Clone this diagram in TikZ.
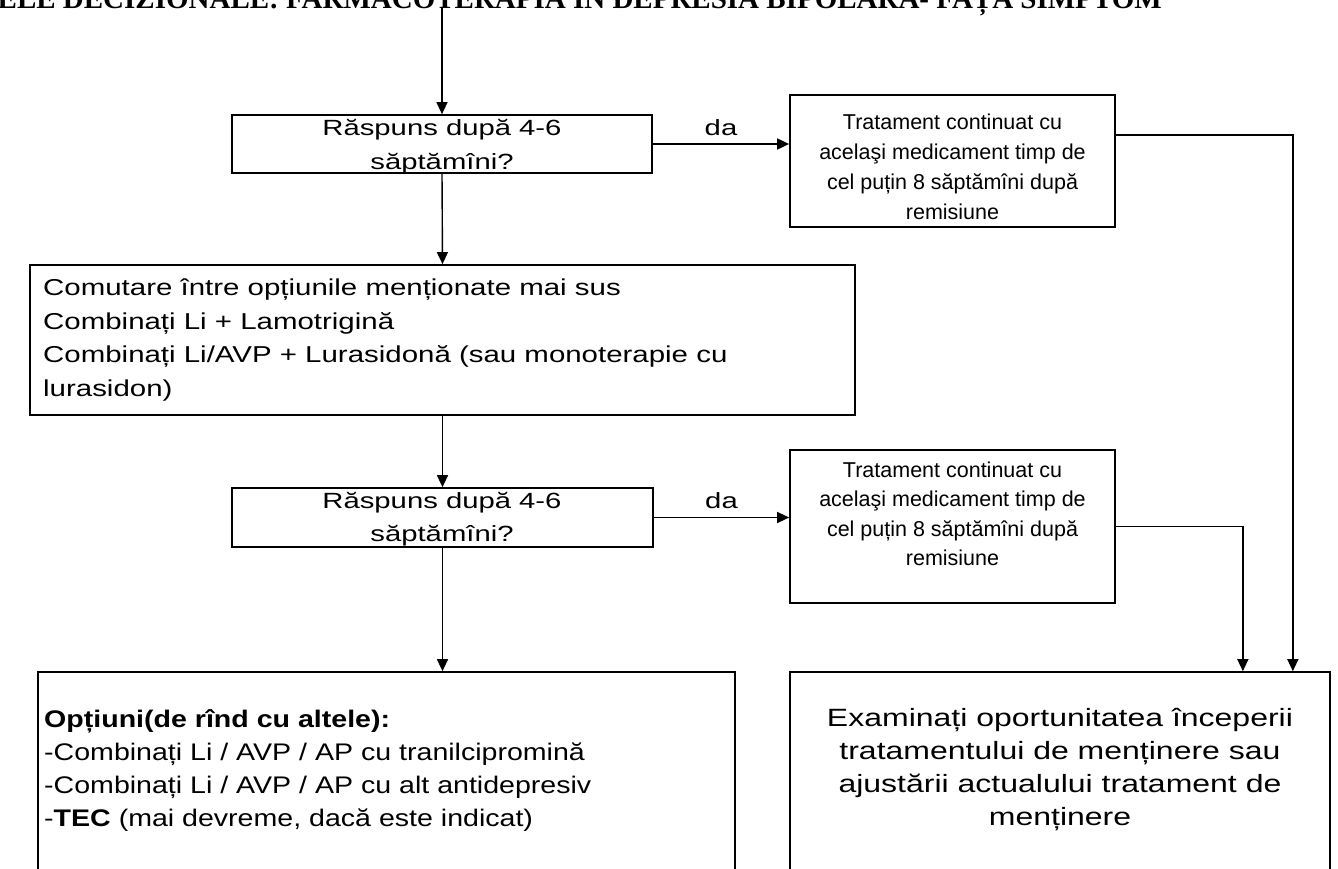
\documentclass[tikz,border=0pt]{standalone}
\usepackage{fontspec}
\setmainfont{Liberation Sans}
\newfontfamily\titlefont{Liberation Serif}
% wide-set faces used in the question, option and closing boxes
\newfontfamily\wideq[FakeStretch=1.33]{Liberation Sans}
\newfontfamily\widec[FakeStretch=1.28]{Liberation Sans}
\newfontfamily\wideo[FakeStretch=1.19]{Liberation Sans}
\newfontfamily\widee[FakeStretch=1.28]{Liberation Sans}
\usetikzlibrary{arrows.meta}

\begin{document}
\begin{tikzpicture}[x=1pt,y=-1pt,
  box/.style={draw, line width=1.7pt, inner sep=0pt},
  txt/.style={inner sep=0pt, align=center},
  lbl/.style={midway, above=8pt, inner sep=0pt, font=\wideq\fontsize{22}{26}\selectfont},
  arr/.style={line width=1.4pt, -{Triangle[length=12pt,width=11pt]}}]
\useasboundingbox (0,0) rectangle (1338,869);
\clip (0,0) rectangle (1338,869);

% heading, cut by the top edge of the page
\node[anchor=base east, inner sep=0pt, font=\titlefont\bfseries\fontsize{29}{32}\selectfont]
  (title) at (1162,9) {ARBORELE DECIZIONALE: FARMACOTERAPIA ÎN DEPRESIA BIPOLARĂ- FAȚĂ SIMPTOM};

% boxes
\node[box, minimum width=420pt, minimum height=58pt] (q1) at (442,144) {};
\node[box, minimum width=325pt, minimum height=132pt] (t1) at (952.5,161) {};
\node[box, minimum width=825pt, minimum height=150pt] (c3) at (442.5,340) {};
\node[box, minimum width=421pt, minimum height=59pt] (q2) at (442.5,517.5) {};
\node[box, minimum width=325pt, minimum height=153pt] (t5) at (952.5,526.5) {};
\node[box, minimum width=697pt, minimum height=208pt] (b7) at (386.5,776) {};
\node[box, minimum width=540pt, minimum height=208pt] (b6) at (1060,776) {};

% texts
\node[txt, font=\wideq\fontsize{22}{34}\selectfont] (q1t) at (442,146.5) {Răspuns după 4-6\\săptămîni?};
\node[txt, font=\fontsize{21.5}{30}\selectfont] (t1t) at (952.5,167) {Tratament continuat cu\\acelaşi medicament timp de\\cel puțin 8 săptămîni după\\remisiune};
\node[txt, align=left, anchor=west, font=\widec\fontsize{23}{33.7}\selectfont] (c3t) at (43,340) {Comutare între opțiunile menționate mai sus\\Combinați Li + Lamotrigină\\Combinați Li/AVP + Lurasidonă (sau monoterapie cu\\lurasidon)};
\node[txt, font=\wideq\fontsize{22}{33}\selectfont] (q2t) at (442,519.5) {Răspuns după 4-6\\săptămîni?};
\node[txt, font=\fontsize{21.5}{29.5}\selectfont] (t5t) at (952.5,514) {Tratament continuat cu\\acelaşi medicament timp de\\cel puțin 8 săptămîni după\\remisiune};
\node[txt, align=left, anchor=west, font=\wideo\fontsize{24}{33}\selectfont] (b7t) at (44,771) {\textbf{Opțiuni(de rînd cu altele):}\\-Combinați Li / AVP / AP cu tranilcipromină\\-Combinați Li / AVP / AP cu alt antidepresiv\\-\textbf{TEC} (mai devreme, dacă este indicat)};
\node[txt, font=\widee\fontsize{25}{33}\selectfont] (b6t) at (1060,769.5) {Examinați oportunitatea începerii\\tratamentului de menținere sau\\ajustării actualului tratament de\\menținere};

% connectors
\coordinate (start) at (442,8);
\draw[arr] (start) -- (q1.north);
\draw[arr] (q1.east) -- node[lbl] (da1) {da} (q1.east -| t1.west);
\draw[arr] (q1.south) -- (c3.north);
\draw[arr] (c3.south) -- (q2.north);
\draw[arr] (q2.east) -- node[lbl] (da2) {da} (q2.east -| t5.west);
\draw[arr] (q2.south) -- (q2.south |- b7.north);
\draw[arr] ([yshift=26pt]t1.east) -| ([xshift=-38pt]b6.north east);
\draw[arr] (t5.east) -| ([xshift=-88pt]b6.north east);
\end{tikzpicture}
\end{document}
